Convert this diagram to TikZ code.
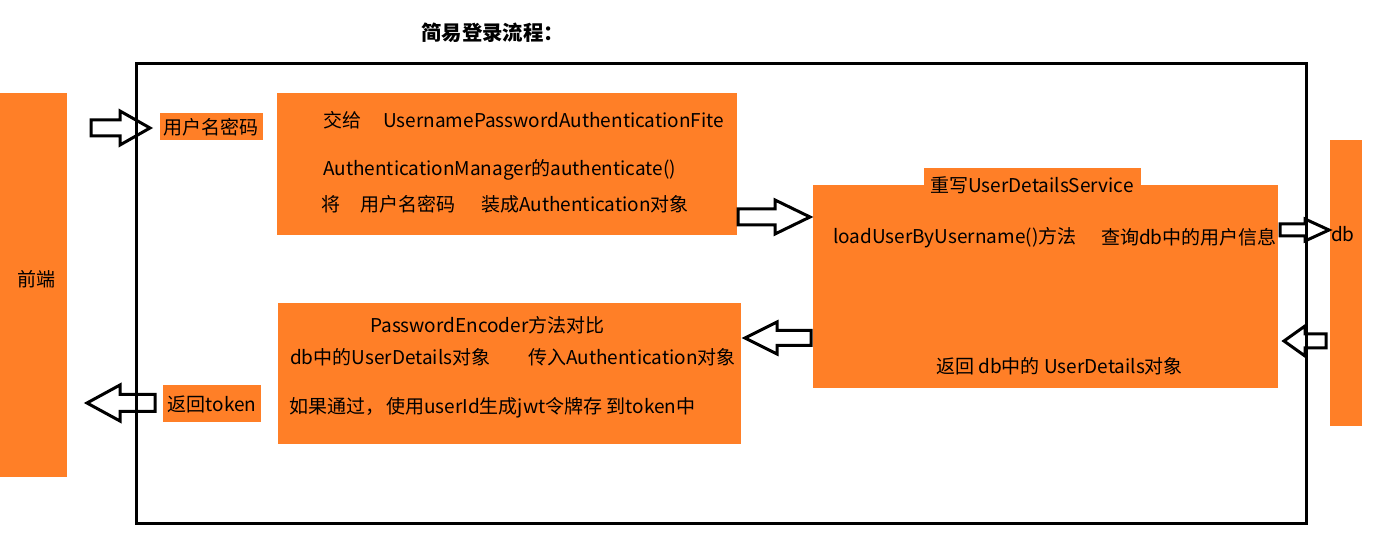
\documentclass[tikz,border=0pt]{standalone}
\usepackage{fontspec}
\setmainfont{Noto Sans CJK SC}
\definecolor{paintorange}{RGB}{255,127,39}

% hollow block arrow: tail x, head base x, tip x, mid y, half shaft, half head
\newcommand{\blockarrow}[6]{%
  \draw[hollow] (#1,#4-#5) -- (#2,#4-#5) -- (#2,#4-#6) -- (#3,#4)
    -- (#2,#4+#6) -- (#2,#4+#5) -- (#1,#4+#5) -- cycle;}

\begin{document}
\begin{tikzpicture}[
    x=1pt, y=-1pt,
    every node/.style={
        inner sep=0pt,
        font=\fontsize{19}{21}\selectfont
    },
    block/.style={fill=paintorange, anchor=north west},
    txt/.style={anchor=west},
    hollow/.style={draw=black, fill=white, line width=3pt, line join=miter}
]
\useasboundingbox (0,0) rectangle (1374,534);

% Title
\node[txt, font=\fontsize{20.4}{22}\selectfont\bfseries] (title) at (421,33) {简易登录流程：};

% Outer blocks (front end, db)
\node[block, minimum width=67, minimum height=384] (front) at (0,93) {};
\node (fronttxt) at (36,279) {前端};
\node[block, minimum width=32, minimum height=286] (db) at (1330,140) {};
\node[txt] (dbtxt) at (1331,234) {db};

% Small labels
\node[block, minimum width=103, minimum height=27] (userpw) at (160,113) {};
\node (userpwtxt) at (211,127) {用户名密码};
\node[block, minimum width=98, minimum height=37] (token) at (163,385) {};
\node (tokentxt) at (212,404) {返回token};

% Authentication box
\node[block, minimum width=460, minimum height=142] (auth) at (277,93) {};
\node[txt] (auth1) at (323,120) {交给\hspace{22pt}UsernamePasswordAuthenticationFite};
\node[txt] (auth2) at (323,170) {AuthenticationManager的authenticate()};
\node[txt] (auth3) at (321,204) {将\hspace{20pt}用户名密码\hspace{26pt}装成Authentication对象};

% UserDetailsService box
\node[block, minimum width=465, minimum height=203] (service) at (813,185) {};
\node[block, minimum width=217, minimum height=20] (servicetag) at (924,168) {};
\node[txt] (service0) at (930,185) {重写UserDetailsService};
\node[txt] (service1) at (833,238) {loadUserByUsername()方法};
\node[txt] (service2) at (1101,237) {查询db中的用户信息};
\node[txt] (service3) at (936,366) {返回 db中的 UserDetails对象};

% PasswordEncoder box
\node[block, minimum width=463, minimum height=141] (encoder) at (278,303) {};
\node[txt] (enc1) at (370,325) {PasswordEncoder方法对比};
\node[txt] (enc2) at (290,357) {db中的UserDetails对象};
\node[txt] (enc3) at (528,357) {传入Authentication对象};
\node[txt] (enc4) at (289,408) {如果通过，\hspace{2pt}使用userId生成jwt令牌存 到token中};

% Block arrows
\blockarrow{91}{120}{150}{128}{8}{17}
\blockarrow{155}{120}{87}{403}{8.5}{18}
\blockarrow{738}{775}{810}{217}{8}{17}
\blockarrow{811}{777}{745}{338}{7.5}{16}
\blockarrow{1280}{1305}{1329}{230}{6}{11}
\blockarrow{1326}{1305}{1284}{341}{7}{15}

% Frame
\draw[line width=3pt] (136,64) rectangle (1306,523);

\end{tikzpicture}
\end{document}
